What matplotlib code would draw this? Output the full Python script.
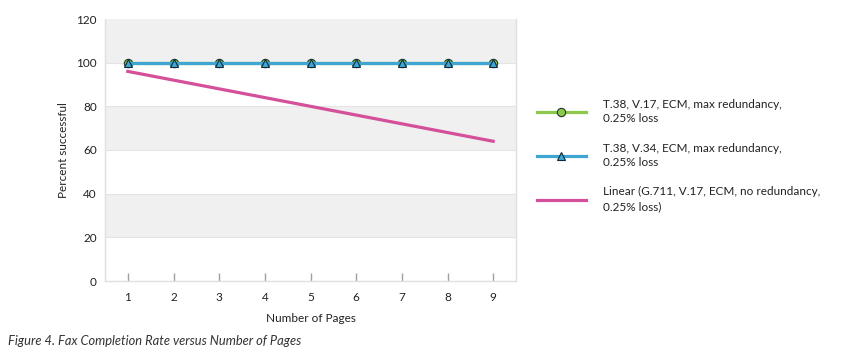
import numpy as np
import matplotlib.pyplot as plt

pages = [1, 2, 3, 4, 5, 6, 7, 8, 9]
t38_v17 = [100, 100, 100, 100, 100, 100, 100, 100, 100]
t38_v34 = [100, 100, 100, 100, 100, 100, 100, 100, 100]
linear_g711 = [96, 92, 88, 84, 80, 76, 72, 68, 64]
labels = ["T.38, V.17, ECM, max redundancy,\n0.25% loss",
          "T.38, V.34, ECM, max redundancy,\n0.25% loss",
          "Linear (G.711, V.17, ECM, no redundancy,\n0.25% loss)"]

plt.rcParams['font.family'] = ['Lato', 'DejaVu Sans']

fig = plt.figure(figsize=(8.47, 3.54), dpi=100)
ax = fig.add_axes([105 / 847, 1 - 281 / 354, 411 / 847, 262 / 354])

# alternating bands
for lo in range(0, 120, 20):
    ax.axhspan(lo, lo + 20, color='#f0f0f0' if (lo // 20) % 2 == 1 else 'white', zorder=0, lw=0)
for y in range(20, 120, 20):
    ax.axhline(y, color='#e4e4e4', lw=0.8, zorder=0.5)

l1, = ax.plot(pages, t38_v17, color='#8cc84b', lw=2.3, marker='o', ms=6,
              mfc='#8cc84b', mec='#1e3a2a', mew=0.8, zorder=3)
l2, = ax.plot(pages, t38_v34, color='#3fa6d3', lw=2.3, marker='^', ms=6,
              mfc='#3fa6d3', mec='#0d2a3a', mew=0.8, zorder=4)
l3, = ax.plot(pages, linear_g711, color='#d4509a', lw=2.3, zorder=3)

ax.set_xlim(0.5, 9.5)
ax.set_ylim(0, 120)
ax.set_xticks(pages)
ax.set_yticks(range(0, 121, 20))
ax.tick_params(axis='x', direction='in', length=6, width=1, color='#a0a0a0',
               labelsize=8.5, labelcolor='#222222', pad=8)
ax.tick_params(axis='y', length=0, labelsize=8.5, labelcolor='#222222', pad=6)
ax.spines['top'].set_visible(False)
for s in ['left', 'right', 'bottom']:
    ax.spines[s].set_color('#e0e0e0')
    ax.spines[s].set_linewidth(1)

ax.set_xlabel('Number of Pages', fontsize=8.5, color='#222222', labelpad=7)
ax.set_ylabel('Percent successful', fontsize=8.5, color='#222222', labelpad=5)

leg = fig.legend([l1, l2, l3], labels, loc='upper left', bbox_to_anchor=(526 / 847, 1 - 88 / 354),
                 frameon=False, fontsize=8.5, handlelength=4.2, handletextpad=1.4,
                 labelspacing=1.55, labelcolor='#222222')
for t in leg.get_texts():
    t.set_linespacing(1.4)

fig.text(8 / 847, 1 - 341 / 354, 'Figure 4. Fax Completion Rate versus Number of Pages',
         fontsize=9.3, style='italic', color='#333333', va='center')

fig.savefig('out.png', dpi=100)
